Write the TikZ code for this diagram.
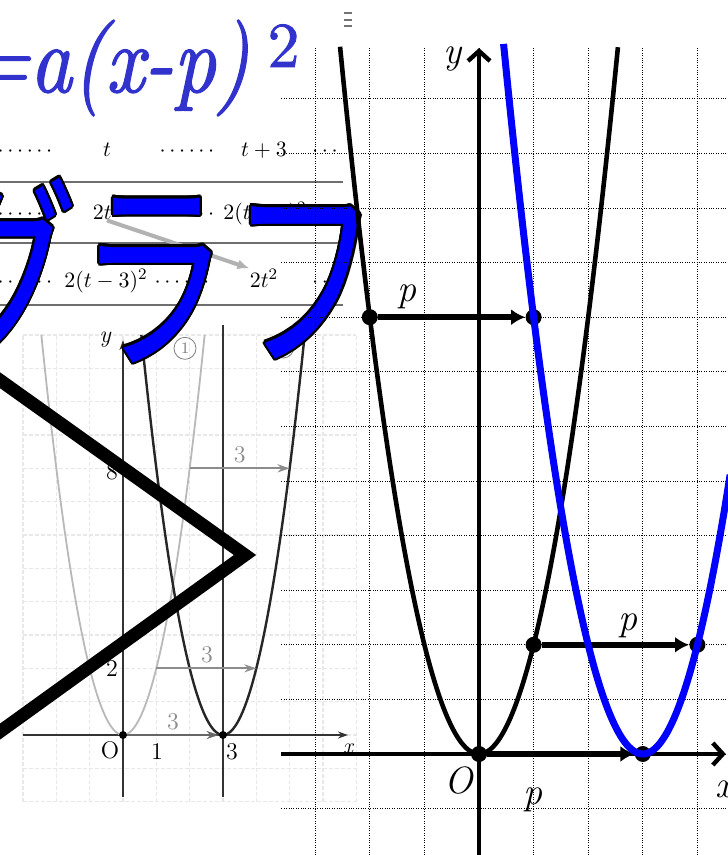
\documentclass[tikz,border=0pt]{standalone}
\usepackage{fontspec}
\usepackage{tikz}
\usetikzlibrary{arrows.meta}
\newfontfamily\kanafont[FakeStretch=0.72]{Noto Sans CJK JP}
\newfontfamily\formfont{lmroman10-italic.otf}[FakeStretch=0.86, FakeBold=1.3]
\newfontfamily\supfont{lmroman10-regular.otf}[FakeBold=1.3]
\newcommand{\kanatext}{グラフ}
\definecolor{formblue}{RGB}{50,50,205}
\definecolor{kanablue}{RGB}{0,0,255}
\definecolor{clrscanline}{RGB}{185,185,185}
\definecolor{clrscangrid}{RGB}{232,232,232}
\definecolor{clrscanshift}{RGB}{140,140,140}
\definecolor{clrrule}{RGB}{110,110,110}
\tikzset{
  % Jadval
  tabtext/.style   = {font=\fontsize{10.8}{13}\selectfont, inner sep=0pt, anchor=base},
  tabrule/.style   = {clrrule, line width=0.6pt},
  tabarrow/.style  = {black!30, line width=2pt, -{Latex[length=6pt,width=5pt]}},
  % Skaner grafik
  scangridline/.style = {clrscangrid, line width=0.6pt, dash pattern=on 2pt off 1pt},
  scanaxis/.style  = {black!80, line width=0.7pt, -{Stealth[length=5pt,width=3.5pt]}},
  scanshift/.style = {clrscanshift, line width=1.1pt, -{Stealth[length=6pt,width=4pt]}},
  scanlab/.style   = {font=\fontsize{12}{12}\selectfont, inner sep=0pt},
  scanring/.style  = {circle, draw=black!50, text=black!50, inner sep=0pt,
                      minimum size=11pt, font=\fontsize{8}{8}\selectfont},
  scandot/.style   = {circle, fill=black, inner sep=0pt, minimum size=4pt},
  % Katta belgilar
  chevron/.style   = {line width=6.5pt, line join=miter},
  formula/.style   = {font=\formfont\fontsize{48}{48}\selectfont,
                      text=formblue, anchor=base west, inner sep=0pt},
  kana/.style      = {font=\kanafont\fontsize{105}{105}\selectfont,
                      inner sep=0pt, anchor=base west},
  % Asosiy grafik
  gridline/.style  = {black, line width=0.45pt, dash pattern=on 0.45pt off 0.75pt},
  mainaxis/.style  = {line width=2.2pt, -{Straight Barb[length=5pt,width=11pt]}},
  blackcurve/.style= {line width=2.3pt},
  bluecurve/.style = {kanablue, line width=3.5pt},
  shiftarrow/.style= {line width=3pt, -{Latex[length=7pt,width=8pt]}},
  bigdot/.style    = {circle, fill=black, inner sep=0pt, minimum size=8pt},
  plab/.style      = {font=\itshape\fontsize{19}{19}\selectfont, inner sep=0pt},
}

\begin{document}
\begin{tikzpicture}[x=0.5pt, y=-0.5pt]
  \useasboundingbox (0,0) rectangle (727,855);
  \fill[white] (0,0) rectangle (727,855);

  % Skaner: y=2x^2 va y=2(x-3)^2
  \begin{scope}[shift={(123,735)}, x=16.667pt, y=16.667pt]
    \foreach \i in {-3,...,7} \draw[scangridline] (\i,-2) -- (\i,12);
    \foreach \j in {-2,...,12} \draw[scangridline] (-3,\j) -- (7,\j);
    \draw[black!80, line width=0.7pt] (3,-1.85) -- (3,12.3);
    \draw[scanaxis] (0,-1.85) -- (0,11.85);
    \draw[scanaxis] (-3,0) -- (6.75,0);
    \draw[clrscanline, line width=0.9pt] plot[domain=-2.45:2.45, samples=60, smooth] (\x,{2*\x*\x});
    \draw[black!85, line width=1.2pt] plot[domain=0.55:5.45, samples=60, smooth] (\x,{2*(\x-3)^2});
    \coordinate (sa8) at (2,8);
    \coordinate (sb8) at (5,8);
    \coordinate (sa2) at (1,2);
    \coordinate (sb2) at (4,2);
    \node[scandot] (so) at (0,0) {};
    \node[scandot] (sthree) at (3,0) {};
    \draw[scanshift] (sa8) -- (sb8);
    \draw[scanshift] (sa2) -- (sb2);
    \draw[scanshift, black!60] (so) -- (sthree);
    \node[scanlab, text=clrscanshift] (sl8) at (3.5,8.4) {3};
    \node[scanlab, text=clrscanshift] (sl2) at (2.52,2.4) {3};
    \node[scanlab, text=clrscanshift] (sl0) at (1.5,0.39) {3};
    \node[scanlab] (seight) at (-0.33,7.9) {8};
    \node[scanlab] (stwo) at (-0.33,1.98) {2};
    \node[scanlab] (sO) at (-0.39,-0.45) {O};
    \node[scanlab] (sone) at (1.02,-0.51) {1};
    \node[scanlab] (sthr) at (3.27,-0.51) {3};
    \node[scanlab, font=\itshape\fontsize{11}{11}\selectfont] (sx) at (6.75,-0.4) {x};
    \node[scanlab, font=\itshape\fontsize{12}{12}\selectfont] (sy) at (-0.54,11.85) {y};
    \node[scanring] (ringone) at (1.86,11.6) {1};
    \node[scanring] (ringthree) at (4.8,11.64) {3};
  \end{scope}

  % Jadval
  \draw[tabrule] (0,182) -- (343,182);
  \draw[tabrule] (0,243) -- (343,243);
  \draw[tabrule] (0,305) -- (343,305);
  \node[tabtext] (r1a) at (25,157) {$\cdots\cdots$};
  \node[tabtext] (r1b) at (107,157) {$t$};
  \node[tabtext] (r1c) at (187,157) {$\cdots\cdots$};
  \node[tabtext] (r1d) at (264,157) {$t+3$};
  \node[tabtext] (r1e) at (325,157) {$\cdots$};
  \node[tabtext] (r2a) at (25,220) {$\cdots\cdots$};
  \node[tabtext] (r2b) at (107,220) {$2t^2$};
  \node[tabtext] (r2c) at (187,220) {$\cdots\cdots$};
  \node[tabtext] (r2d) at (265,220) {$2(t+3)^2$};
  \node[tabtext] (r2e) at (325,220) {$\cdots$};
  \node[tabtext] (r3a) at (25,287) {$\cdots\cdots$};
  \node[tabtext] (r3b) at (106,287) {$2(t-3)^2$};
  \node[tabtext] (r3c) at (182,287) {$\cdots\cdots$};
  \node[tabtext] (r3d) at (264,287) {$2t^2$};
  \node[tabtext] (r3e) at (325,287) {$\cdots$};
  \draw[tabarrow] (r2b.south) -- (r3d.north west);

  % Burchak
  \draw[chevron] (-20,366) -- (245,555) -- (-20,746);

  % Formula
  \node[formula] (formel) at (-34,92)
    {=a(x-p)\hspace{9pt}{\supfont\fontsize{32}{32}\selectfont\raisebox{12.5pt}{2}}};
  \foreach \y in {13,20,26} \draw[black!55, line width=0.8pt] (344,\y) -- (352,\y);

  % Katakana
  \foreach \ang in {0,22.5,...,337.5}
    \node[kana, text=black, xshift={1.1pt*cos(\ang)}, yshift={1.1pt*sin(\ang)}]
      (kanashadow\ang) at (-73,354) {\kanatext};
  \node[kana, text=kanablue] (kana) at (-73,354) {\kanatext};

  % Asosiy grafik
  \begin{scope}[shift={(479,754)}, x=27.3pt, y=27.3pt]
    \foreach \i in {-3,...,4} \draw[gridline] (\i,-1.9) -- (\i,12.95);
    \foreach \j in {-1,...,12} \draw[gridline] (-3.62,\j) -- (4.6,\j);
    \draw[mainaxis] (-3.62,0) -- (4.52,0);
    \draw[mainaxis] (0,-1.9) -- (0,12.93);
    \draw[blackcurve] plot[domain=-2.545:2.545, samples=81, smooth] (\x,{2*\x*\x});
    \node[bigdot] (pa) at (-2,8) {};
    \node[bigdot] (pb) at (1,8) {};
    \node[bigdot] (qa) at (1,2) {};
    \node[bigdot] (qb) at (4,2) {};
    \node[bigdot] (ra) at (0,0) {};
    \node[bigdot] (rb) at (3,0) {};
    \draw[shiftarrow] (pa) -- (pb);
    \draw[shiftarrow] (qa) -- (qb);
    \draw[shiftarrow] (ra) -- (rb);
    \draw[bluecurve] plot[domain=0.45:4.6, samples=81, smooth] (\x,{2*(\x-3)^2});
    \node[plab] (ylab) at (-0.49,12.73) {y};
    \node[plab] (olab) at (-0.37,-0.48) {O};
    \node[plab] (xlab) at (4.49,-0.64) {x};
    \node[plab] (ptop) at (-1.32,8.37) {p};
    \node[plab] (pmid) at (2.73,2.35) {p};
    \node[plab] (pbot) at (0.98,-0.84) {p};
  \end{scope}
\end{tikzpicture}
\end{document}
